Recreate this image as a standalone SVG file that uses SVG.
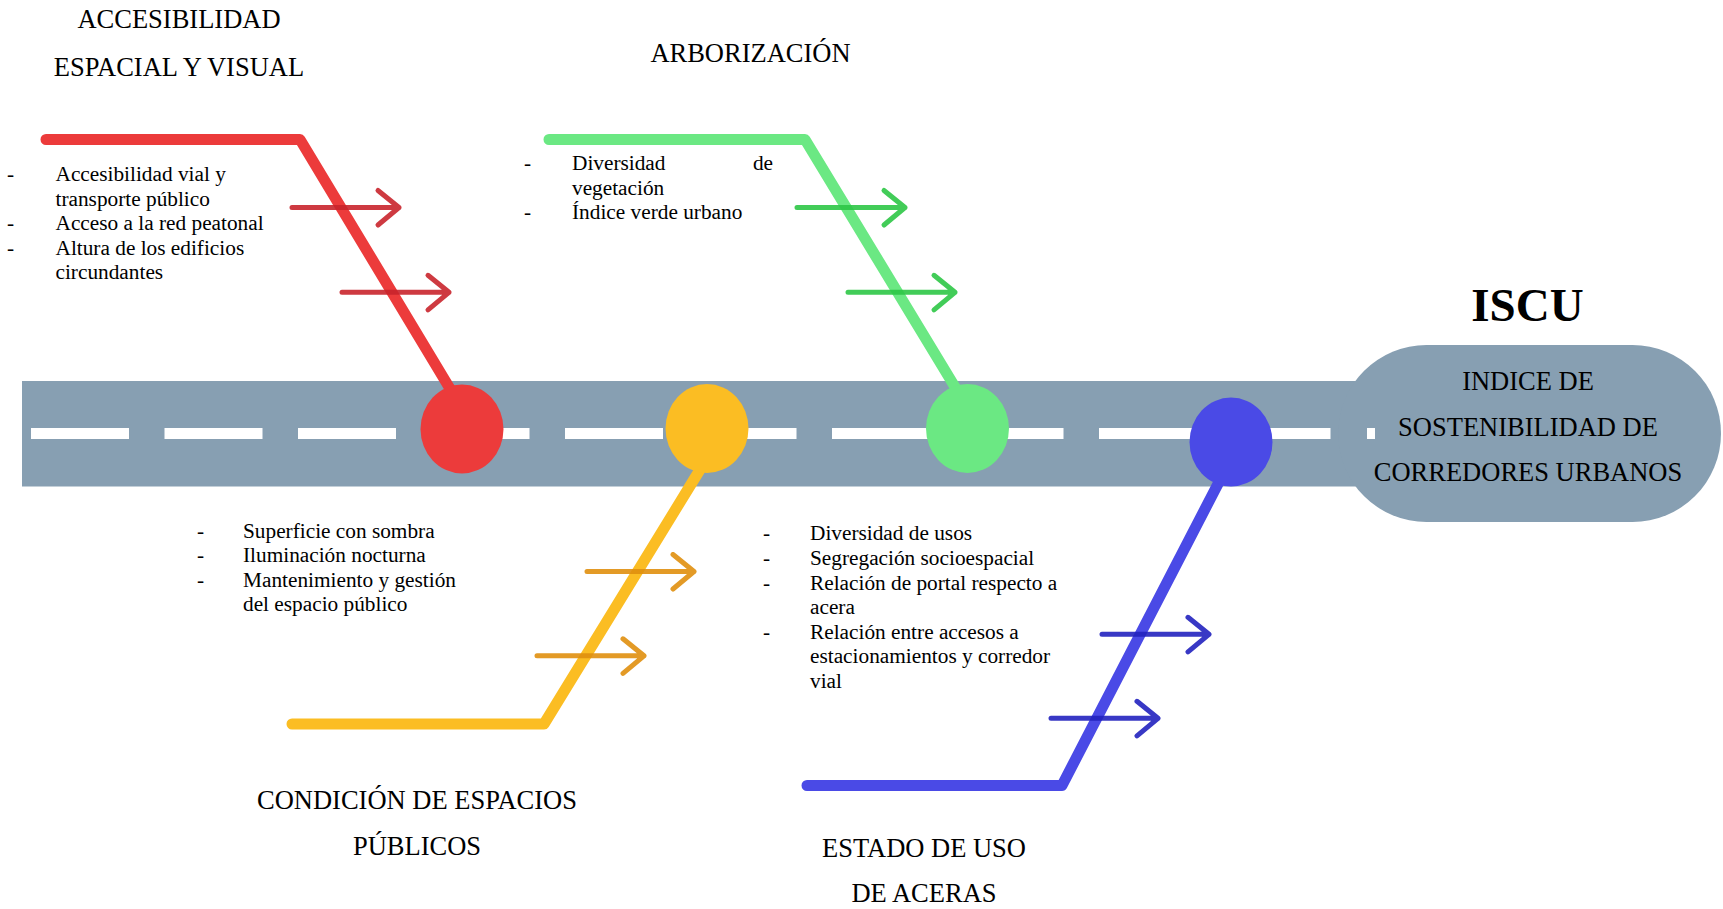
<svg xmlns="http://www.w3.org/2000/svg" width="1723" height="909" viewBox="0 0 1723 909">
<style>
.t{font-family:"Liberation Serif","Times New Roman",serif;fill:#000}
.title{font-size:26.5px;text-anchor:middle}
.b{font-size:21.3px}
.dash{fill:#fff}
.bone{fill:none;stroke-width:11;stroke-linecap:round;stroke-linejoin:round}
.arr{fill:none;stroke-width:5;stroke-linecap:round;stroke-linejoin:round;opacity:0.9}
</style>
<rect width="1723" height="909" fill="#fff"/>
<g id="road">
<rect x="22" y="381" width="1400" height="105.5" fill="#879FB2"/>
<rect class="dash" x="31" y="428" width="98" height="11"/>
<rect class="dash" x="164.5" y="428" width="98" height="11"/>
<rect class="dash" x="298" y="428" width="98" height="11"/>
<rect class="dash" x="431.5" y="428" width="98" height="11"/>
<rect class="dash" x="565" y="428" width="98" height="11"/>
<rect class="dash" x="698.5" y="428" width="98" height="11"/>
<rect class="dash" x="832" y="428" width="98" height="11"/>
<rect class="dash" x="965.5" y="428" width="98" height="11"/>
<rect class="dash" x="1099" y="428" width="98" height="11"/>
<rect class="dash" x="1232.5" y="428" width="98" height="11"/>
</g>
<g id="iscu">
<rect x="1338" y="345" width="383" height="177" rx="88.5" ry="88.5" fill="#879FB2"/>
<rect class="dash" x="1367" y="428" width="8" height="11"/>
<text class="t" x="1527.5" y="321" font-size="47" font-weight="bold" text-anchor="middle">ISCU</text>
<text class="t title" x="1528" y="389.5">INDICE DE</text>
<text class="t title" x="1528" y="436">SOSTENIBILIDAD DE</text>
<text class="t title" x="1528" y="481">CORREDORES URBANOS</text>
</g>
<g id="connectors">
<polyline class="bone" stroke="#EC3B3B" points="46,139.5 300,139.5 452,392"/>
<polyline class="bone" stroke="#6BE883" points="549,139.5 805,139.5 958,392"/>
<polyline class="bone" stroke="#FBBD23" points="701,468 544,724 292,724"/>
<polyline class="bone" stroke="#4A4AE6" points="1220,480 1062,785.5 807,785.5"/>
<g stroke="#C9252C" class="arr">
<path d="M292,207.5H399M378,190.5L399,207.5L378,225"/>
<path d="M342,292.3H449M428,275.3L449,292.3L428,309.8"/>
</g>
<g stroke="#2EC646" class="arr">
<path d="M797,207.5H905M884,190.5L905,207.5L884,225"/>
<path d="M848,292.3H955M934,275.3L955,292.3L934,309.8"/>
</g>
<g stroke="#E0900F" class="arr">
<path d="M587,571.5H694M673,554.5L694,571.5L673,589"/>
<path d="M537,655.8H644M623,638.8L644,655.8L623,673.3"/>
</g>
<g stroke="#2323BF" class="arr">
<path d="M1102,634.3H1209M1188,617.3L1209,634.3L1188,651.8"/>
<path d="M1051,718.3H1158M1137,701.3L1158,718.3L1137,735.8"/>
</g>
</g>
<g id="node-accesibilidad">
<ellipse cx="462" cy="429" rx="41.5" ry="44.5" fill="#EC3B3B"/>
<text class="t title" x="179" y="28">ACCESIBILIDAD</text>
<text class="t title" x="179" y="75.5" font-size="27">ESPACIAL Y VISUAL</text>
<g class="t b">
<text x="7" y="181">-</text><text x="55.5" y="181">Accesibilidad vial y</text>
<text x="55.5" y="205.5">transporte público</text>
<text x="7" y="230">-</text><text x="55.5" y="230">Acceso a la red peatonal</text>
<text x="7" y="254.5">-</text><text x="55.5" y="254.5">Altura de los edificios</text>
<text x="55.5" y="279">circundantes</text>
</g>
</g>
<g id="node-arborizacion">
<ellipse cx="967.5" cy="428.5" rx="41.5" ry="44.5" fill="#6BE883"/>
<text class="t title" x="750.5" y="61.5">ARBORIZACIÓN</text>
<g class="t b">
<text x="524" y="170">-</text><text x="572" y="170">Diversidad</text><text x="773" y="170" text-anchor="end">de</text>
<text x="572" y="194.5">vegetación</text>
<text x="524" y="219">-</text><text x="572" y="219">Índice verde urbano</text>
</g>
</g>
<g id="node-espacios">
<ellipse cx="707" cy="428.5" rx="41.5" ry="44.5" fill="#FBBD23"/>
<text class="t title" x="417" y="808.5">CONDICIÓN DE ESPACIOS</text>
<text class="t title" x="417" y="855">PÚBLICOS</text>
<g class="t b">
<text x="197" y="537.5">-</text><text x="243" y="537.5">Superficie con sombra</text>
<text x="197" y="562">-</text><text x="243" y="562">Iluminación nocturna</text>
<text x="197" y="586.5">-</text><text x="243" y="586.5">Mantenimiento y gestión</text>
<text x="243" y="611">del espacio público</text>
</g>
</g>
<g id="node-aceras">
<ellipse cx="1231" cy="442" rx="41.5" ry="44.5" fill="#4A4AE6"/>
<text class="t title" x="924" y="857">ESTADO DE USO</text>
<text class="t title" x="924" y="902">DE ACERAS</text>
<g class="t b">
<text x="763" y="540">-</text><text x="810" y="540">Diversidad de usos</text>
<text x="763" y="565">-</text><text x="810" y="565">Segregación socioespacial</text>
<text x="763" y="589.5">-</text><text x="810" y="589.5">Relación de portal respecto a</text>
<text x="810" y="614">acera</text>
<text x="763" y="638.5">-</text><text x="810" y="638.5">Relación entre accesos a</text>
<text x="810" y="663">estacionamientos y corredor</text>
<text x="810" y="688">vial</text>
</g>
</g>
</svg>
